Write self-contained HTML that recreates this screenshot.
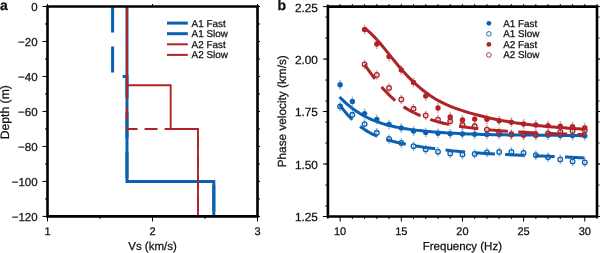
<!DOCTYPE html>
<html><head><meta charset="utf-8"><style>
html,body{margin:0;padding:0;background:#fff;width:600px;height:253px;overflow:hidden}
svg{display:block;will-change:transform}
text{font-family:"Liberation Sans", sans-serif;fill:#111;stroke:#111;stroke-width:0.25px;text-rendering:geometricPrecision}
</style></head><body>
<svg width="600" height="253" viewBox="0 0 600 253">
<defs>
<clipPath id="clipa"><rect x="47.5" y="6.5" width="210.0" height="209.9"/></clipPath>
<clipPath id="clipb"><rect x="327.9" y="6.6" width="269.1" height="209.9"/></clipPath>
</defs>
<rect width="600" height="253" fill="#fff"/>
<line x1="42.5" y1="6.50" x2="47.5" y2="6.50" stroke="#000" stroke-width="1"/>
<line x1="257.5" y1="6.50" x2="260.0" y2="6.50" stroke="#000" stroke-width="1"/>
<line x1="45.0" y1="23.99" x2="47.5" y2="23.99" stroke="#000" stroke-width="1"/>
<line x1="257.5" y1="23.99" x2="260.0" y2="23.99" stroke="#000" stroke-width="1"/>
<line x1="42.5" y1="41.48" x2="47.5" y2="41.48" stroke="#000" stroke-width="1"/>
<line x1="257.5" y1="41.48" x2="260.0" y2="41.48" stroke="#000" stroke-width="1"/>
<line x1="45.0" y1="58.98" x2="47.5" y2="58.98" stroke="#000" stroke-width="1"/>
<line x1="257.5" y1="58.98" x2="260.0" y2="58.98" stroke="#000" stroke-width="1"/>
<line x1="42.5" y1="76.47" x2="47.5" y2="76.47" stroke="#000" stroke-width="1"/>
<line x1="257.5" y1="76.47" x2="260.0" y2="76.47" stroke="#000" stroke-width="1"/>
<line x1="45.0" y1="93.96" x2="47.5" y2="93.96" stroke="#000" stroke-width="1"/>
<line x1="257.5" y1="93.96" x2="260.0" y2="93.96" stroke="#000" stroke-width="1"/>
<line x1="42.5" y1="111.45" x2="47.5" y2="111.45" stroke="#000" stroke-width="1"/>
<line x1="257.5" y1="111.45" x2="260.0" y2="111.45" stroke="#000" stroke-width="1"/>
<line x1="45.0" y1="128.94" x2="47.5" y2="128.94" stroke="#000" stroke-width="1"/>
<line x1="257.5" y1="128.94" x2="260.0" y2="128.94" stroke="#000" stroke-width="1"/>
<line x1="42.5" y1="146.43" x2="47.5" y2="146.43" stroke="#000" stroke-width="1"/>
<line x1="257.5" y1="146.43" x2="260.0" y2="146.43" stroke="#000" stroke-width="1"/>
<line x1="45.0" y1="163.93" x2="47.5" y2="163.93" stroke="#000" stroke-width="1"/>
<line x1="257.5" y1="163.93" x2="260.0" y2="163.93" stroke="#000" stroke-width="1"/>
<line x1="42.5" y1="181.42" x2="47.5" y2="181.42" stroke="#000" stroke-width="1"/>
<line x1="257.5" y1="181.42" x2="260.0" y2="181.42" stroke="#000" stroke-width="1"/>
<line x1="45.0" y1="198.91" x2="47.5" y2="198.91" stroke="#000" stroke-width="1"/>
<line x1="257.5" y1="198.91" x2="260.0" y2="198.91" stroke="#000" stroke-width="1"/>
<line x1="42.5" y1="216.40" x2="47.5" y2="216.40" stroke="#000" stroke-width="1"/>
<line x1="257.5" y1="216.40" x2="260.0" y2="216.40" stroke="#000" stroke-width="1"/>
<line x1="47.50" y1="216.4" x2="47.50" y2="221.4" stroke="#000" stroke-width="1"/>
<line x1="47.50" y1="4.0" x2="47.50" y2="6.5" stroke="#000" stroke-width="1"/>
<line x1="100.00" y1="216.4" x2="100.00" y2="218.9" stroke="#000" stroke-width="1"/>
<line x1="152.50" y1="216.4" x2="152.50" y2="221.4" stroke="#000" stroke-width="1"/>
<line x1="152.50" y1="4.0" x2="152.50" y2="6.5" stroke="#000" stroke-width="1"/>
<line x1="205.00" y1="216.4" x2="205.00" y2="218.9" stroke="#000" stroke-width="1"/>
<line x1="257.50" y1="216.4" x2="257.50" y2="221.4" stroke="#000" stroke-width="1"/>
<line x1="257.50" y1="4.0" x2="257.50" y2="6.5" stroke="#000" stroke-width="1"/>
<g clip-path="url(#clipa)">
<path d="M126.98,6.50 L126.98,181.42 L213.82,181.42 L213.82,216.40" fill="none" stroke="#0b60b2" stroke-width="3"/>
<path d="M112.60,6.50 L112.60,76.47 L126.98,76.47 L126.98,181.42 L213.82,181.42 L213.82,216.40" fill="none" stroke="#0b60b2" stroke-width="3" stroke-dasharray="26 14"/>
<path d="M126.98,6.50 L126.98,85.21 L170.67,85.21 L170.67,128.94 L197.96,128.94 L197.96,216.40" fill="none" stroke="#ad2328" stroke-width="1.9"/>
<path d="M126.98,6.50 L126.98,128.94 L197.96,128.94 L197.96,216.40" fill="none" stroke="#ad2328" stroke-width="1.9" stroke-dasharray="13 7"/>
</g>
<path d="M47.5,6.5H257.5V216.4H47.5Z" fill="none" stroke="#000" stroke-width="2.6" stroke-linecap="square"/>
<text x="37.6" y="11.40" text-anchor="end" font-size="11.5">0</text>
<text x="37.6" y="46.38" text-anchor="end" font-size="11.5">−20</text>
<text x="37.6" y="81.37" text-anchor="end" font-size="11.5">−40</text>
<text x="37.6" y="116.35" text-anchor="end" font-size="11.5">−60</text>
<text x="37.6" y="151.33" text-anchor="end" font-size="11.5">−80</text>
<text x="37.6" y="186.32" text-anchor="end" font-size="11.5">−100</text>
<text x="37.6" y="221.30" text-anchor="end" font-size="11.5">−120</text>
<text x="47.50" y="235" text-anchor="middle" font-size="11">1</text>
<text x="152.50" y="235" text-anchor="middle" font-size="11">2</text>
<text x="257.50" y="235" text-anchor="middle" font-size="11">3</text>
<text x="152.5" y="250" text-anchor="middle" font-size="11.5">Vs (km/s)</text>
<text transform="translate(8.9,112.2) rotate(-90)" text-anchor="middle" font-size="12.2">Depth (m)</text>
<text x="0" y="10" font-size="14" font-weight="bold">a</text>
<line x1="167" y1="23.10" x2="187.8" y2="23.10" stroke="#0b60b2" stroke-width="3"/>
<text x="191.6" y="26.60" font-size="9.9">A1 Fast</text>
<line x1="167" y1="33.70" x2="187.8" y2="33.70" stroke="#0b60b2" stroke-width="3"/>
<text x="191.6" y="37.20" font-size="9.9">A1 Slow</text>
<line x1="167" y1="44.30" x2="187.8" y2="44.30" stroke="#ad2328" stroke-width="2"/>
<text x="191.6" y="47.80" font-size="9.9">A2 Fast</text>
<line x1="167" y1="54.90" x2="187.8" y2="54.90" stroke="#ad2328" stroke-width="2"/>
<text x="191.6" y="58.40" font-size="9.9">A2 Slow</text>
<line x1="325.4" y1="206.00" x2="327.9" y2="206.00" stroke="#000" stroke-width="1"/>
<line x1="597.0" y1="206.00" x2="599.5" y2="206.00" stroke="#000" stroke-width="1"/>
<line x1="325.4" y1="185.02" x2="327.9" y2="185.02" stroke="#000" stroke-width="1"/>
<line x1="597.0" y1="185.02" x2="599.5" y2="185.02" stroke="#000" stroke-width="1"/>
<line x1="325.4" y1="164.03" x2="327.9" y2="164.03" stroke="#000" stroke-width="1"/>
<line x1="597.0" y1="164.03" x2="599.5" y2="164.03" stroke="#000" stroke-width="1"/>
<line x1="325.4" y1="143.03" x2="327.9" y2="143.03" stroke="#000" stroke-width="1"/>
<line x1="597.0" y1="143.03" x2="599.5" y2="143.03" stroke="#000" stroke-width="1"/>
<line x1="325.4" y1="122.05" x2="327.9" y2="122.05" stroke="#000" stroke-width="1"/>
<line x1="597.0" y1="122.05" x2="599.5" y2="122.05" stroke="#000" stroke-width="1"/>
<line x1="325.4" y1="101.05" x2="327.9" y2="101.05" stroke="#000" stroke-width="1"/>
<line x1="597.0" y1="101.05" x2="599.5" y2="101.05" stroke="#000" stroke-width="1"/>
<line x1="325.4" y1="80.07" x2="327.9" y2="80.07" stroke="#000" stroke-width="1"/>
<line x1="597.0" y1="80.07" x2="599.5" y2="80.07" stroke="#000" stroke-width="1"/>
<line x1="325.4" y1="59.07" x2="327.9" y2="59.07" stroke="#000" stroke-width="1"/>
<line x1="597.0" y1="59.07" x2="599.5" y2="59.07" stroke="#000" stroke-width="1"/>
<line x1="325.4" y1="38.08" x2="327.9" y2="38.08" stroke="#000" stroke-width="1"/>
<line x1="597.0" y1="38.08" x2="599.5" y2="38.08" stroke="#000" stroke-width="1"/>
<line x1="325.4" y1="17.09" x2="327.9" y2="17.09" stroke="#000" stroke-width="1"/>
<line x1="597.0" y1="17.09" x2="599.5" y2="17.09" stroke="#000" stroke-width="1"/>
<line x1="322.9" y1="216.50" x2="327.9" y2="216.50" stroke="#000" stroke-width="1"/>
<line x1="597.0" y1="216.50" x2="602.0" y2="216.50" stroke="#000" stroke-width="1"/>
<line x1="322.9" y1="164.03" x2="327.9" y2="164.03" stroke="#000" stroke-width="1"/>
<line x1="597.0" y1="164.03" x2="602.0" y2="164.03" stroke="#000" stroke-width="1"/>
<line x1="322.9" y1="111.55" x2="327.9" y2="111.55" stroke="#000" stroke-width="1"/>
<line x1="597.0" y1="111.55" x2="602.0" y2="111.55" stroke="#000" stroke-width="1"/>
<line x1="322.9" y1="59.07" x2="327.9" y2="59.07" stroke="#000" stroke-width="1"/>
<line x1="597.0" y1="59.07" x2="602.0" y2="59.07" stroke="#000" stroke-width="1"/>
<line x1="322.9" y1="6.60" x2="327.9" y2="6.60" stroke="#000" stroke-width="1"/>
<line x1="597.0" y1="6.60" x2="602.0" y2="6.60" stroke="#000" stroke-width="1"/>
<line x1="327.90" y1="216.5" x2="327.90" y2="219.0" stroke="#000" stroke-width="1"/>
<line x1="327.90" y1="4.1" x2="327.90" y2="6.6" stroke="#000" stroke-width="1"/>
<line x1="340.13" y1="216.5" x2="340.13" y2="221.5" stroke="#000" stroke-width="1"/>
<line x1="340.13" y1="4.1" x2="340.13" y2="6.6" stroke="#000" stroke-width="1"/>
<line x1="352.36" y1="216.5" x2="352.36" y2="219.0" stroke="#000" stroke-width="1"/>
<line x1="352.36" y1="4.1" x2="352.36" y2="6.6" stroke="#000" stroke-width="1"/>
<line x1="364.60" y1="216.5" x2="364.60" y2="219.0" stroke="#000" stroke-width="1"/>
<line x1="364.60" y1="4.1" x2="364.60" y2="6.6" stroke="#000" stroke-width="1"/>
<line x1="376.83" y1="216.5" x2="376.83" y2="219.0" stroke="#000" stroke-width="1"/>
<line x1="376.83" y1="4.1" x2="376.83" y2="6.6" stroke="#000" stroke-width="1"/>
<line x1="389.06" y1="216.5" x2="389.06" y2="219.0" stroke="#000" stroke-width="1"/>
<line x1="389.06" y1="4.1" x2="389.06" y2="6.6" stroke="#000" stroke-width="1"/>
<line x1="401.29" y1="216.5" x2="401.29" y2="221.5" stroke="#000" stroke-width="1"/>
<line x1="401.29" y1="4.1" x2="401.29" y2="6.6" stroke="#000" stroke-width="1"/>
<line x1="413.52" y1="216.5" x2="413.52" y2="219.0" stroke="#000" stroke-width="1"/>
<line x1="413.52" y1="4.1" x2="413.52" y2="6.6" stroke="#000" stroke-width="1"/>
<line x1="425.75" y1="216.5" x2="425.75" y2="219.0" stroke="#000" stroke-width="1"/>
<line x1="425.75" y1="4.1" x2="425.75" y2="6.6" stroke="#000" stroke-width="1"/>
<line x1="437.99" y1="216.5" x2="437.99" y2="219.0" stroke="#000" stroke-width="1"/>
<line x1="437.99" y1="4.1" x2="437.99" y2="6.6" stroke="#000" stroke-width="1"/>
<line x1="450.22" y1="216.5" x2="450.22" y2="219.0" stroke="#000" stroke-width="1"/>
<line x1="450.22" y1="4.1" x2="450.22" y2="6.6" stroke="#000" stroke-width="1"/>
<line x1="462.45" y1="216.5" x2="462.45" y2="221.5" stroke="#000" stroke-width="1"/>
<line x1="462.45" y1="4.1" x2="462.45" y2="6.6" stroke="#000" stroke-width="1"/>
<line x1="474.68" y1="216.5" x2="474.68" y2="219.0" stroke="#000" stroke-width="1"/>
<line x1="474.68" y1="4.1" x2="474.68" y2="6.6" stroke="#000" stroke-width="1"/>
<line x1="486.91" y1="216.5" x2="486.91" y2="219.0" stroke="#000" stroke-width="1"/>
<line x1="486.91" y1="4.1" x2="486.91" y2="6.6" stroke="#000" stroke-width="1"/>
<line x1="499.15" y1="216.5" x2="499.15" y2="219.0" stroke="#000" stroke-width="1"/>
<line x1="499.15" y1="4.1" x2="499.15" y2="6.6" stroke="#000" stroke-width="1"/>
<line x1="511.38" y1="216.5" x2="511.38" y2="219.0" stroke="#000" stroke-width="1"/>
<line x1="511.38" y1="4.1" x2="511.38" y2="6.6" stroke="#000" stroke-width="1"/>
<line x1="523.61" y1="216.5" x2="523.61" y2="221.5" stroke="#000" stroke-width="1"/>
<line x1="523.61" y1="4.1" x2="523.61" y2="6.6" stroke="#000" stroke-width="1"/>
<line x1="535.84" y1="216.5" x2="535.84" y2="219.0" stroke="#000" stroke-width="1"/>
<line x1="535.84" y1="4.1" x2="535.84" y2="6.6" stroke="#000" stroke-width="1"/>
<line x1="548.07" y1="216.5" x2="548.07" y2="219.0" stroke="#000" stroke-width="1"/>
<line x1="548.07" y1="4.1" x2="548.07" y2="6.6" stroke="#000" stroke-width="1"/>
<line x1="560.30" y1="216.5" x2="560.30" y2="219.0" stroke="#000" stroke-width="1"/>
<line x1="560.30" y1="4.1" x2="560.30" y2="6.6" stroke="#000" stroke-width="1"/>
<line x1="572.54" y1="216.5" x2="572.54" y2="219.0" stroke="#000" stroke-width="1"/>
<line x1="572.54" y1="4.1" x2="572.54" y2="6.6" stroke="#000" stroke-width="1"/>
<line x1="584.77" y1="216.5" x2="584.77" y2="221.5" stroke="#000" stroke-width="1"/>
<line x1="584.77" y1="4.1" x2="584.77" y2="6.6" stroke="#000" stroke-width="1"/>
<line x1="597.00" y1="216.5" x2="597.00" y2="219.0" stroke="#000" stroke-width="1"/>
<line x1="597.00" y1="4.1" x2="597.00" y2="6.6" stroke="#000" stroke-width="1"/>
<g clip-path="url(#clipb)">
<path d="M339.60,96.97 L341.60,98.99 L343.60,100.93 L345.60,102.77 L347.60,104.52 L349.60,106.19 L351.60,107.77 L353.60,109.27 L355.60,110.69 L357.60,112.03 L359.60,113.31 L361.60,114.51 L363.60,115.65 L365.60,116.72 L367.60,117.73 L369.60,118.68 L371.60,119.57 L373.60,120.42 L375.60,121.21 L377.60,121.95 L379.60,122.65 L381.60,123.31 L383.60,123.93 L385.60,124.51 L387.60,125.06 L389.60,125.57 L391.60,126.06 L393.60,126.52 L395.60,126.96 L397.60,127.37 L399.60,127.76 L401.60,128.12 L403.60,128.46 L405.60,128.79 L407.60,129.09 L409.60,129.38 L411.60,129.65 L413.60,129.90 L415.60,130.15 L417.60,130.38 L419.60,130.59 L421.60,130.80 L423.60,131.00 L425.60,131.19 L427.60,131.38 L429.60,131.56 L431.60,131.73 L433.60,131.90 L435.60,132.06 L437.60,132.21 L439.60,132.36 L441.60,132.51 L443.60,132.64 L445.60,132.78 L447.60,132.90 L449.60,133.03 L451.60,133.14 L453.60,133.26 L455.60,133.36 L457.60,133.47 L459.60,133.57 L461.60,133.66 L463.60,133.75 L465.60,133.84 L467.60,133.92 L469.60,134.00 L471.60,134.07 L473.60,134.14 L475.60,134.21 L477.60,134.27 L479.60,134.33 L481.60,134.39 L483.60,134.44 L485.60,134.50 L487.60,134.54 L489.60,134.59 L491.60,134.63 L493.60,134.67 L495.60,134.71 L497.60,134.74 L499.60,134.78 L501.60,134.81 L503.60,134.84 L505.60,134.86 L507.60,134.89 L509.60,134.91 L511.60,134.94 L513.60,134.96 L515.60,134.98 L517.60,135.00 L519.60,135.01 L521.60,135.03 L523.60,135.05 L525.60,135.06 L527.60,135.08 L529.60,135.09 L531.60,135.10 L533.60,135.12 L535.60,135.13 L537.60,135.14 L539.60,135.16 L541.60,135.17 L543.60,135.19 L545.60,135.20 L547.60,135.22 L549.60,135.23 L551.60,135.25 L553.60,135.27 L555.60,135.29 L557.60,135.31 L559.60,135.33 L561.60,135.35 L563.60,135.38 L565.60,135.40 L567.60,135.43 L569.60,135.46 L571.60,135.49 L573.60,135.53 L575.60,135.56 L577.60,135.60 L579.60,135.64 L581.60,135.69 L583.60,135.73 L585.00,135.77" fill="none" stroke="#0b60b2" stroke-width="3"/>
<line x1="340.13" y1="80.40" x2="340.13" y2="89.00" stroke="#3d80c8" stroke-width="0.6"/>
<line x1="339.13" y1="80.40" x2="341.13" y2="80.40" stroke="#3d80c8" stroke-width="0.4"/>
<line x1="339.13" y1="89.00" x2="341.13" y2="89.00" stroke="#3d80c8" stroke-width="0.4"/>
<line x1="352.36" y1="97.10" x2="352.36" y2="105.70" stroke="#3d80c8" stroke-width="0.6"/>
<line x1="351.36" y1="97.10" x2="353.36" y2="97.10" stroke="#3d80c8" stroke-width="0.4"/>
<line x1="351.36" y1="105.70" x2="353.36" y2="105.70" stroke="#3d80c8" stroke-width="0.4"/>
<line x1="364.60" y1="109.30" x2="364.60" y2="117.90" stroke="#3d80c8" stroke-width="0.6"/>
<line x1="363.60" y1="109.30" x2="365.60" y2="109.30" stroke="#3d80c8" stroke-width="0.4"/>
<line x1="363.60" y1="117.90" x2="365.60" y2="117.90" stroke="#3d80c8" stroke-width="0.4"/>
<line x1="376.83" y1="115.20" x2="376.83" y2="123.80" stroke="#3d80c8" stroke-width="0.6"/>
<line x1="375.83" y1="115.20" x2="377.83" y2="115.20" stroke="#3d80c8" stroke-width="0.4"/>
<line x1="375.83" y1="123.80" x2="377.83" y2="123.80" stroke="#3d80c8" stroke-width="0.4"/>
<line x1="389.06" y1="120.10" x2="389.06" y2="128.70" stroke="#3d80c8" stroke-width="0.6"/>
<line x1="388.06" y1="120.10" x2="390.06" y2="120.10" stroke="#3d80c8" stroke-width="0.4"/>
<line x1="388.06" y1="128.70" x2="390.06" y2="128.70" stroke="#3d80c8" stroke-width="0.4"/>
<line x1="401.29" y1="123.60" x2="401.29" y2="132.20" stroke="#3d80c8" stroke-width="0.6"/>
<line x1="400.29" y1="123.60" x2="402.29" y2="123.60" stroke="#3d80c8" stroke-width="0.4"/>
<line x1="400.29" y1="132.20" x2="402.29" y2="132.20" stroke="#3d80c8" stroke-width="0.4"/>
<line x1="413.52" y1="126.70" x2="413.52" y2="135.30" stroke="#3d80c8" stroke-width="0.6"/>
<line x1="412.52" y1="126.70" x2="414.52" y2="126.70" stroke="#3d80c8" stroke-width="0.4"/>
<line x1="412.52" y1="135.30" x2="414.52" y2="135.30" stroke="#3d80c8" stroke-width="0.4"/>
<line x1="425.75" y1="128.20" x2="425.75" y2="136.80" stroke="#3d80c8" stroke-width="0.6"/>
<line x1="424.75" y1="128.20" x2="426.75" y2="128.20" stroke="#3d80c8" stroke-width="0.4"/>
<line x1="424.75" y1="136.80" x2="426.75" y2="136.80" stroke="#3d80c8" stroke-width="0.4"/>
<line x1="437.99" y1="129.00" x2="437.99" y2="137.60" stroke="#3d80c8" stroke-width="0.6"/>
<line x1="436.99" y1="129.00" x2="438.99" y2="129.00" stroke="#3d80c8" stroke-width="0.4"/>
<line x1="436.99" y1="137.60" x2="438.99" y2="137.60" stroke="#3d80c8" stroke-width="0.4"/>
<line x1="450.22" y1="129.50" x2="450.22" y2="138.10" stroke="#3d80c8" stroke-width="0.6"/>
<line x1="449.22" y1="129.50" x2="451.22" y2="129.50" stroke="#3d80c8" stroke-width="0.4"/>
<line x1="449.22" y1="138.10" x2="451.22" y2="138.10" stroke="#3d80c8" stroke-width="0.4"/>
<line x1="462.45" y1="129.70" x2="462.45" y2="138.30" stroke="#3d80c8" stroke-width="0.6"/>
<line x1="461.45" y1="129.70" x2="463.45" y2="129.70" stroke="#3d80c8" stroke-width="0.4"/>
<line x1="461.45" y1="138.30" x2="463.45" y2="138.30" stroke="#3d80c8" stroke-width="0.4"/>
<line x1="474.68" y1="129.90" x2="474.68" y2="138.50" stroke="#3d80c8" stroke-width="0.6"/>
<line x1="473.68" y1="129.90" x2="475.68" y2="129.90" stroke="#3d80c8" stroke-width="0.4"/>
<line x1="473.68" y1="138.50" x2="475.68" y2="138.50" stroke="#3d80c8" stroke-width="0.4"/>
<line x1="486.91" y1="130.10" x2="486.91" y2="138.70" stroke="#3d80c8" stroke-width="0.6"/>
<line x1="485.91" y1="130.10" x2="487.91" y2="130.10" stroke="#3d80c8" stroke-width="0.4"/>
<line x1="485.91" y1="138.70" x2="487.91" y2="138.70" stroke="#3d80c8" stroke-width="0.4"/>
<line x1="499.15" y1="130.30" x2="499.15" y2="138.90" stroke="#3d80c8" stroke-width="0.6"/>
<line x1="498.15" y1="130.30" x2="500.15" y2="130.30" stroke="#3d80c8" stroke-width="0.4"/>
<line x1="498.15" y1="138.90" x2="500.15" y2="138.90" stroke="#3d80c8" stroke-width="0.4"/>
<line x1="511.38" y1="130.50" x2="511.38" y2="139.10" stroke="#3d80c8" stroke-width="0.6"/>
<line x1="510.38" y1="130.50" x2="512.38" y2="130.50" stroke="#3d80c8" stroke-width="0.4"/>
<line x1="510.38" y1="139.10" x2="512.38" y2="139.10" stroke="#3d80c8" stroke-width="0.4"/>
<line x1="523.61" y1="130.70" x2="523.61" y2="139.30" stroke="#3d80c8" stroke-width="0.6"/>
<line x1="522.61" y1="130.70" x2="524.61" y2="130.70" stroke="#3d80c8" stroke-width="0.4"/>
<line x1="522.61" y1="139.30" x2="524.61" y2="139.30" stroke="#3d80c8" stroke-width="0.4"/>
<line x1="535.84" y1="130.90" x2="535.84" y2="139.50" stroke="#3d80c8" stroke-width="0.6"/>
<line x1="534.84" y1="130.90" x2="536.84" y2="130.90" stroke="#3d80c8" stroke-width="0.4"/>
<line x1="534.84" y1="139.50" x2="536.84" y2="139.50" stroke="#3d80c8" stroke-width="0.4"/>
<line x1="548.07" y1="131.00" x2="548.07" y2="139.60" stroke="#3d80c8" stroke-width="0.6"/>
<line x1="547.07" y1="131.00" x2="549.07" y2="131.00" stroke="#3d80c8" stroke-width="0.4"/>
<line x1="547.07" y1="139.60" x2="549.07" y2="139.60" stroke="#3d80c8" stroke-width="0.4"/>
<line x1="560.30" y1="131.20" x2="560.30" y2="139.80" stroke="#3d80c8" stroke-width="0.6"/>
<line x1="559.30" y1="131.20" x2="561.30" y2="131.20" stroke="#3d80c8" stroke-width="0.4"/>
<line x1="559.30" y1="139.80" x2="561.30" y2="139.80" stroke="#3d80c8" stroke-width="0.4"/>
<line x1="572.54" y1="131.30" x2="572.54" y2="139.90" stroke="#3d80c8" stroke-width="0.6"/>
<line x1="571.54" y1="131.30" x2="573.54" y2="131.30" stroke="#3d80c8" stroke-width="0.4"/>
<line x1="571.54" y1="139.90" x2="573.54" y2="139.90" stroke="#3d80c8" stroke-width="0.4"/>
<line x1="584.77" y1="131.50" x2="584.77" y2="140.10" stroke="#3d80c8" stroke-width="0.6"/>
<line x1="583.77" y1="131.50" x2="585.77" y2="131.50" stroke="#3d80c8" stroke-width="0.4"/>
<line x1="583.77" y1="140.10" x2="585.77" y2="140.10" stroke="#3d80c8" stroke-width="0.4"/>
<circle cx="340.13" cy="84.70" r="2.7" fill="#0b60b2"/>
<circle cx="352.36" cy="101.40" r="2.7" fill="#0b60b2"/>
<circle cx="364.60" cy="113.60" r="2.7" fill="#0b60b2"/>
<circle cx="376.83" cy="119.50" r="2.7" fill="#0b60b2"/>
<circle cx="389.06" cy="124.40" r="2.7" fill="#0b60b2"/>
<circle cx="401.29" cy="127.90" r="2.7" fill="#0b60b2"/>
<circle cx="413.52" cy="131.00" r="2.7" fill="#0b60b2"/>
<circle cx="425.75" cy="132.50" r="2.7" fill="#0b60b2"/>
<circle cx="437.99" cy="133.30" r="2.7" fill="#0b60b2"/>
<circle cx="450.22" cy="133.80" r="2.7" fill="#0b60b2"/>
<circle cx="462.45" cy="134.00" r="2.7" fill="#0b60b2"/>
<circle cx="474.68" cy="134.20" r="2.7" fill="#0b60b2"/>
<circle cx="486.91" cy="134.40" r="2.7" fill="#0b60b2"/>
<circle cx="499.15" cy="134.60" r="2.7" fill="#0b60b2"/>
<circle cx="511.38" cy="134.80" r="2.7" fill="#0b60b2"/>
<circle cx="523.61" cy="135.00" r="2.7" fill="#0b60b2"/>
<circle cx="535.84" cy="135.20" r="2.7" fill="#0b60b2"/>
<circle cx="548.07" cy="135.30" r="2.7" fill="#0b60b2"/>
<circle cx="560.30" cy="135.50" r="2.7" fill="#0b60b2"/>
<circle cx="572.54" cy="135.60" r="2.7" fill="#0b60b2"/>
<circle cx="584.77" cy="135.80" r="2.7" fill="#0b60b2"/>
<path d="M339.50,104.52 L341.50,107.27 L343.50,109.87 L345.50,112.33 L347.50,114.65 L349.50,116.83 L351.50,118.89 L353.50,120.82 L355.50,122.64 L357.50,124.34 L359.50,125.93 L361.50,127.43 L363.50,128.82 L365.50,130.13 L367.50,131.35 L369.50,132.48 L371.50,133.54 L373.50,134.53 L375.50,135.46 L377.50,136.32 L379.50,137.13 L381.50,137.89 L383.50,138.59 L385.50,139.26 L387.50,139.88 L389.50,140.46 L391.50,141.01 L393.50,141.52 L395.50,142.00 L397.50,142.46 L399.50,142.90 L401.50,143.31 L403.50,143.71 L405.50,144.10 L407.50,144.48 L409.50,144.84 L411.50,145.20 L413.50,145.55 L415.50,145.89 L417.50,146.23 L419.50,146.55 L421.50,146.87 L423.50,147.18 L425.50,147.48 L427.50,147.77 L429.50,148.05 L431.50,148.33 L433.50,148.60 L435.50,148.86 L437.50,149.12 L439.50,149.37 L441.50,149.61 L443.50,149.84 L445.50,150.07 L447.50,150.29 L449.50,150.51 L451.50,150.72 L453.50,150.92 L455.50,151.12 L457.50,151.31 L459.50,151.50 L461.50,151.68 L463.50,151.85 L465.50,152.02 L467.50,152.19 L469.50,152.34 L471.50,152.50 L473.50,152.65 L475.50,152.79 L477.50,152.93 L479.50,153.07 L481.50,153.20 L483.50,153.33 L485.50,153.46 L487.50,153.58 L489.50,153.69 L491.50,153.81 L493.50,153.92 L495.50,154.03 L497.50,154.13 L499.50,154.23 L501.50,154.33 L503.50,154.43 L505.50,154.52 L507.50,154.61 L509.50,154.70 L511.50,154.79 L513.50,154.88 L515.50,154.96 L517.50,155.05 L519.50,155.13 L521.50,155.21 L523.50,155.29 L525.50,155.37 L527.50,155.45 L529.50,155.53 L531.50,155.60 L533.50,155.68 L535.50,155.76 L537.50,155.83 L539.50,155.91 L541.50,155.99 L543.50,156.07 L545.50,156.14 L547.50,156.22 L549.50,156.30 L551.50,156.39 L553.50,156.47 L555.50,156.55 L557.50,156.64 L559.50,156.72 L561.50,156.81 L563.50,156.90 L565.50,157.00 L567.50,157.09 L569.50,157.19 L571.50,157.29 L573.50,157.39 L575.50,157.50 L577.50,157.61 L579.50,157.72 L581.50,157.83 L583.50,157.95 L585.00,158.04" fill="none" stroke="#0b60b2" stroke-width="3" stroke-dasharray="19.6 10.3" stroke-dashoffset="-0.3"/>
<line x1="340.13" y1="102.10" x2="340.13" y2="110.70" stroke="#3d80c8" stroke-width="0.6"/>
<line x1="339.13" y1="102.10" x2="341.13" y2="102.10" stroke="#3d80c8" stroke-width="0.4"/>
<line x1="339.13" y1="110.70" x2="341.13" y2="110.70" stroke="#3d80c8" stroke-width="0.4"/>
<line x1="352.36" y1="110.50" x2="352.36" y2="119.10" stroke="#3d80c8" stroke-width="0.6"/>
<line x1="351.36" y1="110.50" x2="353.36" y2="110.50" stroke="#3d80c8" stroke-width="0.4"/>
<line x1="351.36" y1="119.10" x2="353.36" y2="119.10" stroke="#3d80c8" stroke-width="0.4"/>
<line x1="364.60" y1="119.80" x2="364.60" y2="128.40" stroke="#3d80c8" stroke-width="0.6"/>
<line x1="363.60" y1="119.80" x2="365.60" y2="119.80" stroke="#3d80c8" stroke-width="0.4"/>
<line x1="363.60" y1="128.40" x2="365.60" y2="128.40" stroke="#3d80c8" stroke-width="0.4"/>
<line x1="376.83" y1="128.50" x2="376.83" y2="137.10" stroke="#3d80c8" stroke-width="0.6"/>
<line x1="375.83" y1="128.50" x2="377.83" y2="128.50" stroke="#3d80c8" stroke-width="0.4"/>
<line x1="375.83" y1="137.10" x2="377.83" y2="137.10" stroke="#3d80c8" stroke-width="0.4"/>
<line x1="389.06" y1="134.70" x2="389.06" y2="143.30" stroke="#3d80c8" stroke-width="0.6"/>
<line x1="388.06" y1="134.70" x2="390.06" y2="134.70" stroke="#3d80c8" stroke-width="0.4"/>
<line x1="388.06" y1="143.30" x2="390.06" y2="143.30" stroke="#3d80c8" stroke-width="0.4"/>
<line x1="401.29" y1="138.70" x2="401.29" y2="147.30" stroke="#3d80c8" stroke-width="0.6"/>
<line x1="400.29" y1="138.70" x2="402.29" y2="138.70" stroke="#3d80c8" stroke-width="0.4"/>
<line x1="400.29" y1="147.30" x2="402.29" y2="147.30" stroke="#3d80c8" stroke-width="0.4"/>
<line x1="413.52" y1="141.90" x2="413.52" y2="150.50" stroke="#3d80c8" stroke-width="0.6"/>
<line x1="412.52" y1="141.90" x2="414.52" y2="141.90" stroke="#3d80c8" stroke-width="0.4"/>
<line x1="412.52" y1="150.50" x2="414.52" y2="150.50" stroke="#3d80c8" stroke-width="0.4"/>
<line x1="425.75" y1="145.10" x2="425.75" y2="153.70" stroke="#3d80c8" stroke-width="0.6"/>
<line x1="424.75" y1="145.10" x2="426.75" y2="145.10" stroke="#3d80c8" stroke-width="0.4"/>
<line x1="424.75" y1="153.70" x2="426.75" y2="153.70" stroke="#3d80c8" stroke-width="0.4"/>
<line x1="437.99" y1="147.40" x2="437.99" y2="156.00" stroke="#3d80c8" stroke-width="0.6"/>
<line x1="436.99" y1="147.40" x2="438.99" y2="147.40" stroke="#3d80c8" stroke-width="0.4"/>
<line x1="436.99" y1="156.00" x2="438.99" y2="156.00" stroke="#3d80c8" stroke-width="0.4"/>
<line x1="450.22" y1="149.20" x2="450.22" y2="157.80" stroke="#3d80c8" stroke-width="0.6"/>
<line x1="449.22" y1="149.20" x2="451.22" y2="149.20" stroke="#3d80c8" stroke-width="0.4"/>
<line x1="449.22" y1="157.80" x2="451.22" y2="157.80" stroke="#3d80c8" stroke-width="0.4"/>
<line x1="462.45" y1="150.10" x2="462.45" y2="158.70" stroke="#3d80c8" stroke-width="0.6"/>
<line x1="461.45" y1="150.10" x2="463.45" y2="150.10" stroke="#3d80c8" stroke-width="0.4"/>
<line x1="461.45" y1="158.70" x2="463.45" y2="158.70" stroke="#3d80c8" stroke-width="0.4"/>
<line x1="474.68" y1="149.70" x2="474.68" y2="158.30" stroke="#3d80c8" stroke-width="0.6"/>
<line x1="473.68" y1="149.70" x2="475.68" y2="149.70" stroke="#3d80c8" stroke-width="0.4"/>
<line x1="473.68" y1="158.30" x2="475.68" y2="158.30" stroke="#3d80c8" stroke-width="0.4"/>
<line x1="486.91" y1="148.20" x2="486.91" y2="156.80" stroke="#3d80c8" stroke-width="0.6"/>
<line x1="485.91" y1="148.20" x2="487.91" y2="148.20" stroke="#3d80c8" stroke-width="0.4"/>
<line x1="485.91" y1="156.80" x2="487.91" y2="156.80" stroke="#3d80c8" stroke-width="0.4"/>
<line x1="499.15" y1="147.70" x2="499.15" y2="156.30" stroke="#3d80c8" stroke-width="0.6"/>
<line x1="498.15" y1="147.70" x2="500.15" y2="147.70" stroke="#3d80c8" stroke-width="0.4"/>
<line x1="498.15" y1="156.30" x2="500.15" y2="156.30" stroke="#3d80c8" stroke-width="0.4"/>
<line x1="511.38" y1="147.70" x2="511.38" y2="156.30" stroke="#3d80c8" stroke-width="0.6"/>
<line x1="510.38" y1="147.70" x2="512.38" y2="147.70" stroke="#3d80c8" stroke-width="0.4"/>
<line x1="510.38" y1="156.30" x2="512.38" y2="156.30" stroke="#3d80c8" stroke-width="0.4"/>
<line x1="523.61" y1="148.70" x2="523.61" y2="157.30" stroke="#3d80c8" stroke-width="0.6"/>
<line x1="522.61" y1="148.70" x2="524.61" y2="148.70" stroke="#3d80c8" stroke-width="0.4"/>
<line x1="522.61" y1="157.30" x2="524.61" y2="157.30" stroke="#3d80c8" stroke-width="0.4"/>
<line x1="535.84" y1="150.90" x2="535.84" y2="159.50" stroke="#3d80c8" stroke-width="0.6"/>
<line x1="534.84" y1="150.90" x2="536.84" y2="150.90" stroke="#3d80c8" stroke-width="0.4"/>
<line x1="534.84" y1="159.50" x2="536.84" y2="159.50" stroke="#3d80c8" stroke-width="0.4"/>
<line x1="548.07" y1="152.90" x2="548.07" y2="161.50" stroke="#3d80c8" stroke-width="0.6"/>
<line x1="547.07" y1="152.90" x2="549.07" y2="152.90" stroke="#3d80c8" stroke-width="0.4"/>
<line x1="547.07" y1="161.50" x2="549.07" y2="161.50" stroke="#3d80c8" stroke-width="0.4"/>
<line x1="560.30" y1="155.10" x2="560.30" y2="163.70" stroke="#3d80c8" stroke-width="0.6"/>
<line x1="559.30" y1="155.10" x2="561.30" y2="155.10" stroke="#3d80c8" stroke-width="0.4"/>
<line x1="559.30" y1="163.70" x2="561.30" y2="163.70" stroke="#3d80c8" stroke-width="0.4"/>
<line x1="572.54" y1="157.10" x2="572.54" y2="165.70" stroke="#3d80c8" stroke-width="0.6"/>
<line x1="571.54" y1="157.10" x2="573.54" y2="157.10" stroke="#3d80c8" stroke-width="0.4"/>
<line x1="571.54" y1="165.70" x2="573.54" y2="165.70" stroke="#3d80c8" stroke-width="0.4"/>
<line x1="584.77" y1="158.10" x2="584.77" y2="166.70" stroke="#3d80c8" stroke-width="0.6"/>
<line x1="583.77" y1="158.10" x2="585.77" y2="158.10" stroke="#3d80c8" stroke-width="0.4"/>
<line x1="583.77" y1="166.70" x2="585.77" y2="166.70" stroke="#3d80c8" stroke-width="0.4"/>
<circle cx="340.13" cy="106.40" r="2.3" fill="none" stroke="#0b60b2" stroke-width="1.3"/>
<circle cx="352.36" cy="114.80" r="2.3" fill="none" stroke="#0b60b2" stroke-width="1.3"/>
<circle cx="364.60" cy="124.10" r="2.3" fill="none" stroke="#0b60b2" stroke-width="1.3"/>
<circle cx="376.83" cy="132.80" r="2.3" fill="none" stroke="#0b60b2" stroke-width="1.3"/>
<circle cx="389.06" cy="139.00" r="2.3" fill="none" stroke="#0b60b2" stroke-width="1.3"/>
<circle cx="401.29" cy="143.00" r="2.3" fill="none" stroke="#0b60b2" stroke-width="1.3"/>
<circle cx="413.52" cy="146.20" r="2.3" fill="none" stroke="#0b60b2" stroke-width="1.3"/>
<circle cx="425.75" cy="149.40" r="2.3" fill="none" stroke="#0b60b2" stroke-width="1.3"/>
<circle cx="437.99" cy="151.70" r="2.3" fill="none" stroke="#0b60b2" stroke-width="1.3"/>
<circle cx="450.22" cy="153.50" r="2.3" fill="none" stroke="#0b60b2" stroke-width="1.3"/>
<circle cx="462.45" cy="154.40" r="2.3" fill="none" stroke="#0b60b2" stroke-width="1.3"/>
<circle cx="474.68" cy="154.00" r="2.3" fill="none" stroke="#0b60b2" stroke-width="1.3"/>
<circle cx="486.91" cy="152.50" r="2.3" fill="none" stroke="#0b60b2" stroke-width="1.3"/>
<circle cx="499.15" cy="152.00" r="2.3" fill="none" stroke="#0b60b2" stroke-width="1.3"/>
<circle cx="511.38" cy="152.00" r="2.3" fill="none" stroke="#0b60b2" stroke-width="1.3"/>
<circle cx="523.61" cy="153.00" r="2.3" fill="none" stroke="#0b60b2" stroke-width="1.3"/>
<circle cx="535.84" cy="155.20" r="2.3" fill="none" stroke="#0b60b2" stroke-width="1.3"/>
<circle cx="548.07" cy="157.20" r="2.3" fill="none" stroke="#0b60b2" stroke-width="1.3"/>
<circle cx="560.30" cy="159.40" r="2.3" fill="none" stroke="#0b60b2" stroke-width="1.3"/>
<circle cx="572.54" cy="161.40" r="2.3" fill="none" stroke="#0b60b2" stroke-width="1.3"/>
<circle cx="584.77" cy="162.40" r="2.3" fill="none" stroke="#0b60b2" stroke-width="1.3"/>
<path d="M364.30,27.95 L366.30,29.46 L368.30,31.13 L370.30,32.94 L372.30,34.87 L374.30,36.91 L376.30,39.06 L378.30,41.29 L380.30,43.60 L382.30,45.97 L384.30,48.39 L386.30,50.85 L388.30,53.33 L390.30,55.83 L392.30,58.32 L394.30,60.80 L396.30,63.26 L398.30,65.68 L400.30,68.05 L402.30,70.36 L404.30,72.60 L406.30,74.77 L408.30,76.87 L410.30,78.90 L412.30,80.87 L414.30,82.77 L416.30,84.61 L418.30,86.38 L420.30,88.08 L422.30,89.72 L424.30,91.30 L426.30,92.81 L428.30,94.26 L430.30,95.65 L432.30,96.97 L434.30,98.24 L436.30,99.44 L438.30,100.58 L440.30,101.66 L442.30,102.68 L444.30,103.65 L446.30,104.57 L448.30,105.45 L450.30,106.28 L452.30,107.08 L454.30,107.84 L456.30,108.57 L458.30,109.27 L460.30,109.95 L462.30,110.60 L464.30,111.24 L466.30,111.87 L468.30,112.48 L470.30,113.07 L472.30,113.65 L474.30,114.21 L476.30,114.75 L478.30,115.29 L480.30,115.80 L482.30,116.31 L484.30,116.79 L486.30,117.27 L488.30,117.73 L490.30,118.18 L492.30,118.61 L494.30,119.04 L496.30,119.45 L498.30,119.85 L500.30,120.23 L502.30,120.61 L504.30,120.97 L506.30,121.32 L508.30,121.66 L510.30,122.00 L512.30,122.32 L514.30,122.63 L516.30,122.93 L518.30,123.22 L520.30,123.50 L522.30,123.77 L524.30,124.03 L526.30,124.29 L528.30,124.54 L530.30,124.78 L532.30,125.01 L534.30,125.23 L536.30,125.45 L538.30,125.66 L540.30,125.86 L542.30,126.06 L544.30,126.25 L546.30,126.43 L548.30,126.61 L550.30,126.78 L552.30,126.95 L554.30,127.11 L556.30,127.27 L558.30,127.43 L560.30,127.58 L562.30,127.72 L564.30,127.86 L566.30,128.00 L568.30,128.14 L570.30,128.27 L572.30,128.40 L574.30,128.53 L576.30,128.66 L578.30,128.78 L580.30,128.91 L582.30,129.03 L584.30,129.15 L585.00,129.19" fill="none" stroke="#ad2328" stroke-width="3"/>
<line x1="364.60" y1="25.20" x2="364.60" y2="33.80" stroke="#c05555" stroke-width="0.6"/>
<line x1="363.60" y1="25.20" x2="365.60" y2="25.20" stroke="#c05555" stroke-width="0.4"/>
<line x1="363.60" y1="33.80" x2="365.60" y2="33.80" stroke="#c05555" stroke-width="0.4"/>
<line x1="376.83" y1="39.70" x2="376.83" y2="48.30" stroke="#c05555" stroke-width="0.6"/>
<line x1="375.83" y1="39.70" x2="377.83" y2="39.70" stroke="#c05555" stroke-width="0.4"/>
<line x1="375.83" y1="48.30" x2="377.83" y2="48.30" stroke="#c05555" stroke-width="0.4"/>
<line x1="389.06" y1="52.30" x2="389.06" y2="60.90" stroke="#c05555" stroke-width="0.6"/>
<line x1="388.06" y1="52.30" x2="390.06" y2="52.30" stroke="#c05555" stroke-width="0.4"/>
<line x1="388.06" y1="60.90" x2="390.06" y2="60.90" stroke="#c05555" stroke-width="0.4"/>
<line x1="401.29" y1="65.70" x2="401.29" y2="74.30" stroke="#c05555" stroke-width="0.6"/>
<line x1="400.29" y1="65.70" x2="402.29" y2="65.70" stroke="#c05555" stroke-width="0.4"/>
<line x1="400.29" y1="74.30" x2="402.29" y2="74.30" stroke="#c05555" stroke-width="0.4"/>
<line x1="413.52" y1="78.10" x2="413.52" y2="86.70" stroke="#c05555" stroke-width="0.6"/>
<line x1="412.52" y1="78.10" x2="414.52" y2="78.10" stroke="#c05555" stroke-width="0.4"/>
<line x1="412.52" y1="86.70" x2="414.52" y2="86.70" stroke="#c05555" stroke-width="0.4"/>
<line x1="425.75" y1="91.60" x2="425.75" y2="100.20" stroke="#c05555" stroke-width="0.6"/>
<line x1="424.75" y1="91.60" x2="426.75" y2="91.60" stroke="#c05555" stroke-width="0.4"/>
<line x1="424.75" y1="100.20" x2="426.75" y2="100.20" stroke="#c05555" stroke-width="0.4"/>
<line x1="437.99" y1="103.60" x2="437.99" y2="112.20" stroke="#c05555" stroke-width="0.6"/>
<line x1="436.99" y1="103.60" x2="438.99" y2="103.60" stroke="#c05555" stroke-width="0.4"/>
<line x1="436.99" y1="112.20" x2="438.99" y2="112.20" stroke="#c05555" stroke-width="0.4"/>
<line x1="450.22" y1="112.70" x2="450.22" y2="121.30" stroke="#c05555" stroke-width="0.6"/>
<line x1="449.22" y1="112.70" x2="451.22" y2="112.70" stroke="#c05555" stroke-width="0.4"/>
<line x1="449.22" y1="121.30" x2="451.22" y2="121.30" stroke="#c05555" stroke-width="0.4"/>
<line x1="462.45" y1="115.60" x2="462.45" y2="124.20" stroke="#c05555" stroke-width="0.6"/>
<line x1="461.45" y1="115.60" x2="463.45" y2="115.60" stroke="#c05555" stroke-width="0.4"/>
<line x1="461.45" y1="124.20" x2="463.45" y2="124.20" stroke="#c05555" stroke-width="0.4"/>
<line x1="474.68" y1="114.80" x2="474.68" y2="123.40" stroke="#c05555" stroke-width="0.6"/>
<line x1="473.68" y1="114.80" x2="475.68" y2="114.80" stroke="#c05555" stroke-width="0.4"/>
<line x1="473.68" y1="123.40" x2="475.68" y2="123.40" stroke="#c05555" stroke-width="0.4"/>
<line x1="486.91" y1="114.90" x2="486.91" y2="123.50" stroke="#c05555" stroke-width="0.6"/>
<line x1="485.91" y1="114.90" x2="487.91" y2="114.90" stroke="#c05555" stroke-width="0.4"/>
<line x1="485.91" y1="123.50" x2="487.91" y2="123.50" stroke="#c05555" stroke-width="0.4"/>
<line x1="499.15" y1="116.40" x2="499.15" y2="125.00" stroke="#c05555" stroke-width="0.6"/>
<line x1="498.15" y1="116.40" x2="500.15" y2="116.40" stroke="#c05555" stroke-width="0.4"/>
<line x1="498.15" y1="125.00" x2="500.15" y2="125.00" stroke="#c05555" stroke-width="0.4"/>
<line x1="511.38" y1="117.90" x2="511.38" y2="126.50" stroke="#c05555" stroke-width="0.6"/>
<line x1="510.38" y1="117.90" x2="512.38" y2="117.90" stroke="#c05555" stroke-width="0.4"/>
<line x1="510.38" y1="126.50" x2="512.38" y2="126.50" stroke="#c05555" stroke-width="0.4"/>
<line x1="523.61" y1="119.60" x2="523.61" y2="128.20" stroke="#c05555" stroke-width="0.6"/>
<line x1="522.61" y1="119.60" x2="524.61" y2="119.60" stroke="#c05555" stroke-width="0.4"/>
<line x1="522.61" y1="128.20" x2="524.61" y2="128.20" stroke="#c05555" stroke-width="0.4"/>
<line x1="535.84" y1="120.70" x2="535.84" y2="129.30" stroke="#c05555" stroke-width="0.6"/>
<line x1="534.84" y1="120.70" x2="536.84" y2="120.70" stroke="#c05555" stroke-width="0.4"/>
<line x1="534.84" y1="129.30" x2="536.84" y2="129.30" stroke="#c05555" stroke-width="0.4"/>
<line x1="548.07" y1="121.30" x2="548.07" y2="129.90" stroke="#c05555" stroke-width="0.6"/>
<line x1="547.07" y1="121.30" x2="549.07" y2="121.30" stroke="#c05555" stroke-width="0.4"/>
<line x1="547.07" y1="129.90" x2="549.07" y2="129.90" stroke="#c05555" stroke-width="0.4"/>
<line x1="560.30" y1="121.80" x2="560.30" y2="130.40" stroke="#c05555" stroke-width="0.6"/>
<line x1="559.30" y1="121.80" x2="561.30" y2="121.80" stroke="#c05555" stroke-width="0.4"/>
<line x1="559.30" y1="130.40" x2="561.30" y2="130.40" stroke="#c05555" stroke-width="0.4"/>
<line x1="572.54" y1="122.30" x2="572.54" y2="130.90" stroke="#c05555" stroke-width="0.6"/>
<line x1="571.54" y1="122.30" x2="573.54" y2="122.30" stroke="#c05555" stroke-width="0.4"/>
<line x1="571.54" y1="130.90" x2="573.54" y2="130.90" stroke="#c05555" stroke-width="0.4"/>
<line x1="584.77" y1="123.40" x2="584.77" y2="132.00" stroke="#c05555" stroke-width="0.6"/>
<line x1="583.77" y1="123.40" x2="585.77" y2="123.40" stroke="#c05555" stroke-width="0.4"/>
<line x1="583.77" y1="132.00" x2="585.77" y2="132.00" stroke="#c05555" stroke-width="0.4"/>
<circle cx="364.60" cy="29.50" r="2.7" fill="#ad2328"/>
<circle cx="376.83" cy="44.00" r="2.7" fill="#ad2328"/>
<circle cx="389.06" cy="56.60" r="2.7" fill="#ad2328"/>
<circle cx="401.29" cy="70.00" r="2.7" fill="#ad2328"/>
<circle cx="413.52" cy="82.40" r="2.7" fill="#ad2328"/>
<circle cx="425.75" cy="95.90" r="2.7" fill="#ad2328"/>
<circle cx="437.99" cy="107.90" r="2.7" fill="#ad2328"/>
<circle cx="450.22" cy="117.00" r="2.7" fill="#ad2328"/>
<circle cx="462.45" cy="119.90" r="2.7" fill="#ad2328"/>
<circle cx="474.68" cy="119.10" r="2.7" fill="#ad2328"/>
<circle cx="486.91" cy="119.20" r="2.7" fill="#ad2328"/>
<circle cx="499.15" cy="120.70" r="2.7" fill="#ad2328"/>
<circle cx="511.38" cy="122.20" r="2.7" fill="#ad2328"/>
<circle cx="523.61" cy="123.90" r="2.7" fill="#ad2328"/>
<circle cx="535.84" cy="125.00" r="2.7" fill="#ad2328"/>
<circle cx="548.07" cy="125.60" r="2.7" fill="#ad2328"/>
<circle cx="560.30" cy="126.10" r="2.7" fill="#ad2328"/>
<circle cx="572.54" cy="126.60" r="2.7" fill="#ad2328"/>
<circle cx="584.77" cy="127.70" r="2.7" fill="#ad2328"/>
<path d="M364.50,64.59 L366.50,67.45 L368.50,70.24 L370.50,72.98 L372.50,75.65 L374.50,78.25 L376.50,80.78 L378.50,83.24 L380.50,85.62 L382.50,87.92 L384.50,90.14 L386.50,92.27 L388.50,94.32 L390.50,96.28 L392.50,98.15 L394.50,99.92 L396.50,101.59 L398.50,103.17 L400.50,104.65 L402.50,106.06 L404.50,107.38 L406.50,108.63 L408.50,109.81 L410.50,110.93 L412.50,111.98 L414.50,112.98 L416.50,113.93 L418.50,114.84 L420.50,115.70 L422.50,116.52 L424.50,117.31 L426.50,118.07 L428.50,118.78 L430.50,119.47 L432.50,120.12 L434.50,120.74 L436.50,121.33 L438.50,121.90 L440.50,122.43 L442.50,122.94 L444.50,123.42 L446.50,123.88 L448.50,124.32 L450.50,124.73 L452.50,125.12 L454.50,125.49 L456.50,125.84 L458.50,126.18 L460.50,126.49 L462.50,126.79 L464.50,127.08 L466.50,127.35 L468.50,127.62 L470.50,127.86 L472.50,128.10 L474.50,128.33 L476.50,128.56 L478.50,128.77 L480.50,128.98 L482.50,129.18 L484.50,129.38 L486.50,129.57 L488.50,129.76 L490.50,129.94 L492.50,130.12 L494.50,130.29 L496.50,130.46 L498.50,130.62 L500.50,130.77 L502.50,130.93 L504.50,131.07 L506.50,131.22 L508.50,131.36 L510.50,131.49 L512.50,131.62 L514.50,131.75 L516.50,131.87 L518.50,131.99 L520.50,132.10 L522.50,132.22 L524.50,132.33 L526.50,132.43 L528.50,132.53 L530.50,132.63 L532.50,132.73 L534.50,132.82 L536.50,132.91 L538.50,133.00 L540.50,133.09 L542.50,133.17 L544.50,133.25 L546.50,133.33 L548.50,133.41 L550.50,133.48 L552.50,133.55 L554.50,133.63 L556.50,133.70 L558.50,133.76 L560.50,133.83 L562.50,133.90 L564.50,133.96 L566.50,134.03 L568.50,134.09 L570.50,134.15 L572.50,134.21 L574.50,134.27 L576.50,134.33 L578.50,134.39 L580.50,134.45 L582.50,134.51 L584.50,134.57 L585.00,134.59" fill="none" stroke="#ad2328" stroke-width="3" stroke-dasharray="19.3 10.4" stroke-dashoffset="1.6"/>
<line x1="364.60" y1="60.10" x2="364.60" y2="68.70" stroke="#c05555" stroke-width="0.6"/>
<line x1="363.60" y1="60.10" x2="365.60" y2="60.10" stroke="#c05555" stroke-width="0.4"/>
<line x1="363.60" y1="68.70" x2="365.60" y2="68.70" stroke="#c05555" stroke-width="0.4"/>
<line x1="376.83" y1="70.70" x2="376.83" y2="79.30" stroke="#c05555" stroke-width="0.6"/>
<line x1="375.83" y1="70.70" x2="377.83" y2="70.70" stroke="#c05555" stroke-width="0.4"/>
<line x1="375.83" y1="79.30" x2="377.83" y2="79.30" stroke="#c05555" stroke-width="0.4"/>
<line x1="389.06" y1="83.70" x2="389.06" y2="92.30" stroke="#c05555" stroke-width="0.6"/>
<line x1="388.06" y1="83.70" x2="390.06" y2="83.70" stroke="#c05555" stroke-width="0.4"/>
<line x1="388.06" y1="92.30" x2="390.06" y2="92.30" stroke="#c05555" stroke-width="0.4"/>
<line x1="401.29" y1="95.20" x2="401.29" y2="103.80" stroke="#c05555" stroke-width="0.6"/>
<line x1="400.29" y1="95.20" x2="402.29" y2="95.20" stroke="#c05555" stroke-width="0.4"/>
<line x1="400.29" y1="103.80" x2="402.29" y2="103.80" stroke="#c05555" stroke-width="0.4"/>
<line x1="413.52" y1="104.50" x2="413.52" y2="113.10" stroke="#c05555" stroke-width="0.6"/>
<line x1="412.52" y1="104.50" x2="414.52" y2="104.50" stroke="#c05555" stroke-width="0.4"/>
<line x1="412.52" y1="113.10" x2="414.52" y2="113.10" stroke="#c05555" stroke-width="0.4"/>
<line x1="425.75" y1="111.20" x2="425.75" y2="119.80" stroke="#c05555" stroke-width="0.6"/>
<line x1="424.75" y1="111.20" x2="426.75" y2="111.20" stroke="#c05555" stroke-width="0.4"/>
<line x1="424.75" y1="119.80" x2="426.75" y2="119.80" stroke="#c05555" stroke-width="0.4"/>
<line x1="437.99" y1="115.30" x2="437.99" y2="123.90" stroke="#c05555" stroke-width="0.6"/>
<line x1="436.99" y1="115.30" x2="438.99" y2="115.30" stroke="#c05555" stroke-width="0.4"/>
<line x1="436.99" y1="123.90" x2="438.99" y2="123.90" stroke="#c05555" stroke-width="0.4"/>
<line x1="450.22" y1="117.00" x2="450.22" y2="125.60" stroke="#c05555" stroke-width="0.6"/>
<line x1="449.22" y1="117.00" x2="451.22" y2="117.00" stroke="#c05555" stroke-width="0.4"/>
<line x1="449.22" y1="125.60" x2="451.22" y2="125.60" stroke="#c05555" stroke-width="0.4"/>
<line x1="462.45" y1="120.50" x2="462.45" y2="129.10" stroke="#c05555" stroke-width="0.6"/>
<line x1="461.45" y1="120.50" x2="463.45" y2="120.50" stroke="#c05555" stroke-width="0.4"/>
<line x1="461.45" y1="129.10" x2="463.45" y2="129.10" stroke="#c05555" stroke-width="0.4"/>
<line x1="474.68" y1="122.00" x2="474.68" y2="130.60" stroke="#c05555" stroke-width="0.6"/>
<line x1="473.68" y1="122.00" x2="475.68" y2="122.00" stroke="#c05555" stroke-width="0.4"/>
<line x1="473.68" y1="130.60" x2="475.68" y2="130.60" stroke="#c05555" stroke-width="0.4"/>
<line x1="486.91" y1="125.30" x2="486.91" y2="133.90" stroke="#c05555" stroke-width="0.6"/>
<line x1="485.91" y1="125.30" x2="487.91" y2="125.30" stroke="#c05555" stroke-width="0.4"/>
<line x1="485.91" y1="133.90" x2="487.91" y2="133.90" stroke="#c05555" stroke-width="0.4"/>
<line x1="499.15" y1="128.10" x2="499.15" y2="136.70" stroke="#c05555" stroke-width="0.6"/>
<line x1="498.15" y1="128.10" x2="500.15" y2="128.10" stroke="#c05555" stroke-width="0.4"/>
<line x1="498.15" y1="136.70" x2="500.15" y2="136.70" stroke="#c05555" stroke-width="0.4"/>
<line x1="511.38" y1="130.00" x2="511.38" y2="138.60" stroke="#c05555" stroke-width="0.6"/>
<line x1="510.38" y1="130.00" x2="512.38" y2="130.00" stroke="#c05555" stroke-width="0.4"/>
<line x1="510.38" y1="138.60" x2="512.38" y2="138.60" stroke="#c05555" stroke-width="0.4"/>
<line x1="523.61" y1="130.50" x2="523.61" y2="139.10" stroke="#c05555" stroke-width="0.6"/>
<line x1="522.61" y1="130.50" x2="524.61" y2="130.50" stroke="#c05555" stroke-width="0.4"/>
<line x1="522.61" y1="139.10" x2="524.61" y2="139.10" stroke="#c05555" stroke-width="0.4"/>
<line x1="535.84" y1="130.50" x2="535.84" y2="139.10" stroke="#c05555" stroke-width="0.6"/>
<line x1="534.84" y1="130.50" x2="536.84" y2="130.50" stroke="#c05555" stroke-width="0.4"/>
<line x1="534.84" y1="139.10" x2="536.84" y2="139.10" stroke="#c05555" stroke-width="0.4"/>
<line x1="548.07" y1="129.20" x2="548.07" y2="137.80" stroke="#c05555" stroke-width="0.6"/>
<line x1="547.07" y1="129.20" x2="549.07" y2="129.20" stroke="#c05555" stroke-width="0.4"/>
<line x1="547.07" y1="137.80" x2="549.07" y2="137.80" stroke="#c05555" stroke-width="0.4"/>
<line x1="560.30" y1="127.70" x2="560.30" y2="136.30" stroke="#c05555" stroke-width="0.6"/>
<line x1="559.30" y1="127.70" x2="561.30" y2="127.70" stroke="#c05555" stroke-width="0.4"/>
<line x1="559.30" y1="136.30" x2="561.30" y2="136.30" stroke="#c05555" stroke-width="0.4"/>
<line x1="572.54" y1="126.70" x2="572.54" y2="135.30" stroke="#c05555" stroke-width="0.6"/>
<line x1="571.54" y1="126.70" x2="573.54" y2="126.70" stroke="#c05555" stroke-width="0.4"/>
<line x1="571.54" y1="135.30" x2="573.54" y2="135.30" stroke="#c05555" stroke-width="0.4"/>
<line x1="584.77" y1="126.20" x2="584.77" y2="134.80" stroke="#c05555" stroke-width="0.6"/>
<line x1="583.77" y1="126.20" x2="585.77" y2="126.20" stroke="#c05555" stroke-width="0.4"/>
<line x1="583.77" y1="134.80" x2="585.77" y2="134.80" stroke="#c05555" stroke-width="0.4"/>
<circle cx="364.60" cy="64.40" r="2.3" fill="none" stroke="#ad2328" stroke-width="1.3"/>
<circle cx="376.83" cy="75.00" r="2.3" fill="none" stroke="#ad2328" stroke-width="1.3"/>
<circle cx="389.06" cy="88.00" r="2.3" fill="none" stroke="#ad2328" stroke-width="1.3"/>
<circle cx="401.29" cy="99.50" r="2.3" fill="none" stroke="#ad2328" stroke-width="1.3"/>
<circle cx="413.52" cy="108.80" r="2.3" fill="none" stroke="#ad2328" stroke-width="1.3"/>
<circle cx="425.75" cy="115.50" r="2.3" fill="none" stroke="#ad2328" stroke-width="1.3"/>
<circle cx="437.99" cy="119.60" r="2.3" fill="none" stroke="#ad2328" stroke-width="1.3"/>
<circle cx="450.22" cy="121.30" r="2.3" fill="none" stroke="#ad2328" stroke-width="1.3"/>
<circle cx="462.45" cy="124.80" r="2.3" fill="none" stroke="#ad2328" stroke-width="1.3"/>
<circle cx="474.68" cy="126.30" r="2.3" fill="none" stroke="#ad2328" stroke-width="1.3"/>
<circle cx="486.91" cy="129.60" r="2.3" fill="none" stroke="#ad2328" stroke-width="1.3"/>
<circle cx="499.15" cy="132.40" r="2.3" fill="none" stroke="#ad2328" stroke-width="1.3"/>
<circle cx="511.38" cy="134.30" r="2.3" fill="none" stroke="#ad2328" stroke-width="1.3"/>
<circle cx="523.61" cy="134.80" r="2.3" fill="none" stroke="#ad2328" stroke-width="1.3"/>
<circle cx="535.84" cy="134.80" r="2.3" fill="none" stroke="#ad2328" stroke-width="1.3"/>
<circle cx="548.07" cy="133.50" r="2.3" fill="none" stroke="#ad2328" stroke-width="1.3"/>
<circle cx="560.30" cy="132.00" r="2.3" fill="none" stroke="#ad2328" stroke-width="1.3"/>
<circle cx="572.54" cy="131.00" r="2.3" fill="none" stroke="#ad2328" stroke-width="1.3"/>
<circle cx="584.77" cy="130.50" r="2.3" fill="none" stroke="#ad2328" stroke-width="1.3"/>
</g>
<path d="M327.9,6.6H597.0V216.5H327.9Z" fill="none" stroke="#000" stroke-width="2.6" stroke-linecap="square"/>
<text x="317.9" y="221.40" text-anchor="end" font-size="11.8">1.25</text>
<text x="317.9" y="168.93" text-anchor="end" font-size="11.8">1.50</text>
<text x="317.9" y="116.45" text-anchor="end" font-size="11.8">1.75</text>
<text x="317.9" y="63.97" text-anchor="end" font-size="11.8">2.00</text>
<text x="317.9" y="11.50" text-anchor="end" font-size="11.8">2.25</text>
<text x="340.13" y="235.3" text-anchor="middle" font-size="11">10</text>
<text x="401.29" y="235.3" text-anchor="middle" font-size="11">15</text>
<text x="462.45" y="235.3" text-anchor="middle" font-size="11">20</text>
<text x="523.61" y="235.3" text-anchor="middle" font-size="11">25</text>
<text x="584.77" y="235.3" text-anchor="middle" font-size="11">30</text>
<text x="462.4" y="250" text-anchor="middle" font-size="11.5">Frequency (Hz)</text>
<text transform="translate(285.6,111.3) rotate(-90)" text-anchor="middle" font-size="11.8">Phase velocity (km/s)</text>
<text x="277.5" y="10" font-size="14" font-weight="bold">b</text>
<circle cx="488.9" cy="23.30" r="2.4" fill="#0b60b2"/>
<text x="503.2" y="26.80" font-size="9.9">A1 Fast</text>
<circle cx="488.9" cy="33.85" r="2.3" fill="#fff" stroke="#0b60b2" stroke-width="0.9"/>
<text x="503.2" y="37.35" font-size="9.9">A1 Slow</text>
<circle cx="488.9" cy="44.40" r="2.4" fill="#ad2328"/>
<text x="503.2" y="47.90" font-size="9.9">A2 Fast</text>
<circle cx="488.9" cy="54.95" r="2.3" fill="#fff" stroke="#ad2328" stroke-width="0.9"/>
<text x="503.2" y="58.45" font-size="9.9">A2 Slow</text>
</svg>
</body></html>
